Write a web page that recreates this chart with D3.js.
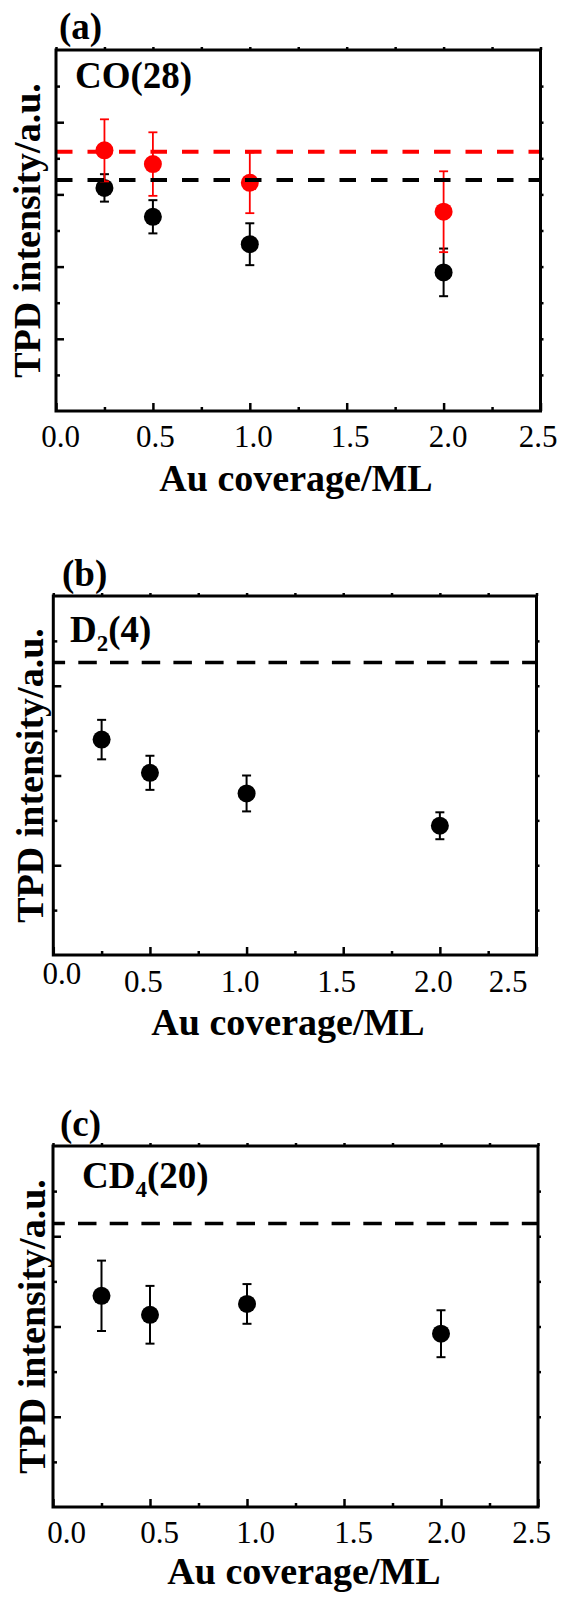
<!DOCTYPE html>
<html>
<head>
<meta charset="utf-8">
<script src="https://cdn.jsdelivr.net/npm/d3@7/dist/d3.min.js"></script>
<style>
  html, body { margin: 0; padding: 0; background: #fff; }
  svg { display: block; }
  text { font-family: "Liberation Serif", "Times New Roman", Times, serif; fill: #000; }
</style>
</head>
<body>
<svg id="chart" width="564" height="1598"></svg>
<script>
// ---------------- data ----------------
const xTicks = [0, 0.5, 1.0, 1.5, 2.0, 2.5];
const xTickLabels = ["0.0", "0.5", "1.0", "1.5", "2.0", "2.5"];
const coverage = [0.25, 0.5, 1.0, 2.0];

// (a) CO(28)
const coBlack = [3.09, 2.69, 2.31, 1.92];
const coBlackErr = [0.19, 0.23, 0.29, 0.33];
const coRed = [3.61, 3.42, 3.16, 2.76];
const coRedErr = [0.43, 0.44, 0.42, 0.56];
const coBlackRef = 3.20;
const coRedRef = 3.59;

// (b) D2(4)
const d2 = [2.40, 2.03, 1.80, 1.44];
const d2Err = [0.22, 0.19, 0.20, 0.15];
const d2Ref = 3.26;

// (c) CD4(20)
const cd4 = [2.34, 2.13, 2.25, 1.92];
const cd4Err = [0.39, 0.32, 0.22, 0.26];
const cd4Ref = 3.14;

const yTitle = "TPD intensity/a.u.";
const xTitle = "Au coverage/ML";

// ---------------- layout ----------------
const panels = [
  { letter: "(a)", label: [["CO(28)", 0]], ymax: 5,
    left: 56, right: 540.5, top: 50, bottom: 411,
    labelX: 75, labelY: 88, letterX: 59, letterY: 39,
    yTitleX: 40, xTitleX: 296, xTitleY: 491,
    tickY: [447, 447, 447, 447, 447, 447], tickDx: [4, 2, 3, 3, 4, -3],
    dashW: 4, dash: "16.5,15", dashOff: 0,
    series: [
      { v: coBlack, e: coBlackErr, color: "#000", ew: 2 },
      { v: coRed, e: coRedErr, color: "#ff0000", ew: 1.8 }
    ],
    refs: [ { v: coBlackRef, color: "#000" }, { v: coRedRef, color: "#ff0000" } ] },
  { letter: "(b)", label: [["D", 0], ["2", 1], ["(4)", 0]], ymax: 4,
    left: 53.3, right: 536.5, top: 596, bottom: 955,
    labelX: 70, labelY: 641.5, letterX: 62, letterY: 586,
    yTitleX: 43, xTitleX: 288, xTitleY: 1035,
    tickY: [984, 992, 992, 992, 992, 992], tickDx: [8, -7, -7, -7, -7, -29],
    dashW: 3.5, dash: "18.5,13.2", dashOff: 6.7,
    series: [ { v: d2, e: d2Err, color: "#000", ew: 2 } ],
    refs: [ { v: d2Ref, color: "#000" } ] },
  { letter: "(c)", label: [["CD", 0], ["4", 1], ["(20)", 0]], ymax: 4,
    left: 53, right: 538, top: 1146, bottom: 1507,
    labelX: 82, labelY: 1188, letterX: 60, letterY: 1136,
    yTitleX: 45, xTitleX: 304, xTitleY: 1584,
    tickY: [1543, 1543, 1543, 1543, 1543, 1543], tickDx: [13, 9, 8, 9, 5, -7],
    dashW: 3.5, dash: "18.5,13.2", dashOff: 6.7,
    series: [ { v: cd4, e: cd4Err, color: "#000", ew: 2 } ],
    refs: [ { v: cd4Ref, color: "#000" } ] }
];

const svg = d3.select("#chart");

function drawPanel(cfg) {
  const g = svg.append("g");
  const x = d3.scaleLinear().domain([0, 2.5]).range([cfg.left, cfg.right]);
  const y = d3.scaleLinear().domain([0, cfg.ymax]).range([cfg.bottom, cfg.top]);

  const xMinor = d3.range(0.25, 2.5, 0.5);
  const yMajor = d3.range(1, cfg.ymax, 1);
  const yMinor = d3.range(0.5, cfg.ymax, 1);

  function styleAxis(sel) {
    sel.select(".domain").remove();
    sel.selectAll("line").attr("stroke", "#000").attr("stroke-width", 2.5);
  }

  // bottom major (inward) with labels
  const bx = g.append("g").attr("transform", `translate(0,${cfg.bottom})`)
    .call(d3.axisBottom(x).tickValues(xTicks).tickSizeInner(-8).tickSizeOuter(0)
      .tickFormat((d, i) => xTickLabels[i]));
  styleAxis(bx);
  bx.selectAll("text")
    .attr("y", (d, i) => cfg.tickY[i] - cfg.bottom)
    .attr("dy", 0)
    .attr("dx", (d, i) => cfg.tickDx[i])
    .attr("font-size", 31)
    .attr("font-family", "Liberation Serif, Times New Roman, serif")
    .attr("fill", "#000");
  // bottom minor
  styleAxis(g.append("g").attr("transform", `translate(0,${cfg.bottom})`)
    .call(d3.axisBottom(x).tickValues(xMinor).tickSizeInner(-4).tickSizeOuter(0).tickFormat("")));
  // top ticks (small, outward)
  styleAxis(g.append("g").attr("transform", `translate(0,${cfg.top})`)
    .call(d3.axisTop(x).tickValues(xTicks.concat(xMinor)).tickSizeInner(3).tickSizeOuter(0).tickFormat("")));
  // left major/minor (inward)
  styleAxis(g.append("g").attr("transform", `translate(${cfg.left},0)`)
    .call(d3.axisLeft(y).tickValues(yMajor).tickSizeInner(-8).tickSizeOuter(0).tickFormat("")));
  styleAxis(g.append("g").attr("transform", `translate(${cfg.left},0)`)
    .call(d3.axisLeft(y).tickValues(yMinor).tickSizeInner(-4).tickSizeOuter(0).tickFormat("")));
  // right ticks (small, outward)
  styleAxis(g.append("g").attr("transform", `translate(${cfg.right},0)`)
    .call(d3.axisRight(y).tickValues(yMajor.concat(yMinor)).tickSizeInner(3).tickSizeOuter(0).tickFormat("")));

  // data series
  cfg.series.forEach(s => {
    const pts = coverage.map((c, i) => ({ c, v: s.v[i], e: s.e[i] }));
    const sg = g.append("g");
    sg.selectAll("line.bar").data(pts).join("line")
      .attr("x1", d => x(d.c)).attr("x2", d => x(d.c))
      .attr("y1", d => y(d.v + d.e)).attr("y2", d => y(d.v - d.e))
      .attr("stroke", s.color).attr("stroke-width", s.ew);
    [1, -1].forEach(sign => {
      sg.selectAll(null).data(pts).join("line")
        .attr("x1", d => x(d.c) - 4.5).attr("x2", d => x(d.c) + 4.5)
        .attr("y1", d => y(d.v + sign * d.e)).attr("y2", d => y(d.v + sign * d.e))
        .attr("stroke", s.color).attr("stroke-width", s.ew);
    });
    sg.selectAll("circle").data(pts).join("circle")
      .attr("cx", d => x(d.c)).attr("cy", d => y(d.v)).attr("r", 9)
      .attr("fill", s.color);
  });

  // reference dashed lines
  cfg.refs.forEach(r => {
    g.append("line")
      .attr("x1", cfg.left).attr("x2", cfg.right)
      .attr("y1", y(r.v)).attr("y2", y(r.v))
      .attr("stroke", r.color).attr("stroke-width", cfg.dashW)
      .attr("stroke-dasharray", cfg.dash).attr("stroke-dashoffset", cfg.dashOff);
  });

  // frame
  g.append("rect")
    .attr("x", cfg.left).attr("y", cfg.top)
    .attr("width", cfg.right - cfg.left).attr("height", cfg.bottom - cfg.top)
    .attr("fill", "none").attr("stroke", "#000").attr("stroke-width", 3);

  // species label with subscripts
  const lt = g.append("text").attr("x", cfg.labelX).attr("y", cfg.labelY)
    .attr("font-weight", "bold").attr("font-size", 37);
  let prevSub = 0;
  cfg.label.forEach(([t, sub]) => {
    const dy = (sub ? 9 : 0) - (prevSub ? 9 : 0);
    lt.append("tspan").attr("dy", dy).attr("font-size", sub ? 23 : 37).text(t);
    prevSub = sub;
  });

  // panel letter
  g.append("text").attr("x", cfg.letterX).attr("y", cfg.letterY)
    .attr("font-weight", "bold").attr("font-size", 37).text(cfg.letter);

  // axis titles
  g.append("text").attr("x", cfg.xTitleX).attr("y", cfg.xTitleY)
    .attr("text-anchor", "middle").attr("font-weight", "bold").attr("font-size", 38)
    .text(xTitle);
  const cy = (cfg.top + cfg.bottom) / 2;
  g.append("text")
    .attr("transform", `translate(${cfg.yTitleX},${cy}) rotate(-90)`)
    .attr("text-anchor", "middle").attr("font-weight", "bold").attr("font-size", 38)
    .text(yTitle);
}

panels.forEach(drawPanel);
</script>
</body>
</html>
